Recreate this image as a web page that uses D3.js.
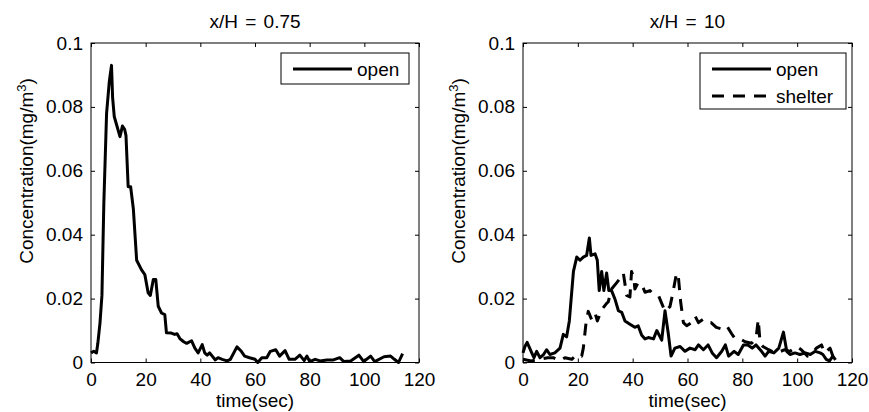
<!DOCTYPE html>
<html><head><meta charset="utf-8">
<script src="https://cdn.jsdelivr.net/npm/d3@7"></script>
<style>
body{margin:0;background:#fff;}
text{font-family:"Liberation Sans",Arial,sans-serif;fill:#000;}
</style></head>
<body><svg id="c" width="869" height="412"></svg>
<script>
const xTicks=[0,20,40,60,80,100,120];
const yTicks=[0,0.02,0.04,0.06,0.08,0.1];
const yTickLabels=["0","0.02","0.04","0.06","0.08","0.1"];
const titles=["x/H = 0.75","x/H = 10"];
const xLabel="time(sec)";
const seriesNames=["open","shelter"];

const nearOpenT=[0,1,2,2.5,3.3,4,4.7,5.7,6.7,7.5,7.9,8.5,10.6,11.5,12.3,12.8,13.6,14.5,15.5,16.7,18.5,19.7,20.9,21.7,22.8,23.7,24.6,25.8,27,27.6,29.4,30.6,31.5,32.5,33.9,35,36.8,38,39.2,40.7,41.6,42.5,43.4,45.5,46.5,48,49.8,51,53.4,55,56.2,58,60,61,62.5,64.3,65.6,67.6,69,71,72.5,74.6,76.4,78,79,80,82,83.8,86.3,88.7,91,92.5,95,98,99.8,102.3,103.8,107.2,109.6,111,112.5,114];
const nearOpenC=[0.003,0.0035,0.003,0.006,0.0125,0.021,0.05,0.078,0.088,0.093,0.083,0.077,0.0707,0.074,0.073,0.071,0.055,0.055,0.048,0.032,0.029,0.0275,0.0218,0.021,0.026,0.026,0.0176,0.0155,0.015,0.0093,0.0092,0.0088,0.009,0.0075,0.0065,0.006,0.0068,0.0045,0.003,0.0056,0.003,0.0023,0.003,0.0008,0.0015,0.001,0.0005,0.001,0.0049,0.0035,0.002,0.0015,0.001,0,0.0015,0.0015,0.0035,0.004,0.002,0.0037,0.001,0.001,0.0023,0.0006,0.002,0.0003,0.001,0.0005,0.0008,0.0008,0.0015,0.0003,0.0005,0.0023,0.0003,0.002,0.0003,0.0018,0.002,0.001,0,0.0028];

const farOpenT=[0,0.7,1.5,3.2,4,5,6.2,7.5,8.6,9.8,11.6,13.5,14.7,15.9,16.9,18.4,19.6,20.8,22,23.2,24.2,24.8,26.3,27.1,27.8,28.7,29.5,30.5,31.3,32.3,33.6,34.8,36,37.2,39,40.8,42,43.3,44.5,45.7,47.6,48.8,50.6,51.8,53,54,55.4,57.3,59.1,60.9,62.8,64,65.8,67.5,69,70.6,72.5,73.8,75,77,78.5,80.4,82,83.6,85,87,88.3,89.6,91.5,93.3,95,96.2,97.4,99.2,101,103,104.8,106.6,108.4,109.4,110.6,111.8,113,114];
const farOpenC=[0.003,0.005,0.0063,0.003,0.0015,0.0035,0.0015,0.0025,0.004,0.0025,0.003,0.0045,0.0088,0.008,0.013,0.0285,0.033,0.032,0.033,0.0335,0.039,0.0335,0.034,0.032,0.0225,0.0285,0.0225,0.028,0.0225,0.0225,0.0197,0.0162,0.0157,0.013,0.012,0.011,0.0115,0.0085,0.0074,0.0078,0.0074,0.01,0.007,0.0162,0.009,0.002,0.0045,0.005,0.0035,0.0045,0.004,0.0055,0.004,0.0055,0.003,0.0015,0.0035,0.0055,0.002,0.0035,0.0025,0.0055,0.0055,0.0045,0.0055,0.0035,0.002,0.0035,0.003,0.0045,0.0095,0.0035,0.0025,0.003,0.0025,0.003,0.0025,0.0035,0.003,0.0025,0.001,0.0005,0.002,0.0008];

const farShelterT=[0,3,6,9,11,13.5,15.3,17.8,19.6,21.4,22,23,23.8,25,26.3,27.1,28.7,30.5,31.1,32.3,34.2,36,36.6,37.8,39,39.6,40.5,40.8,42,43.3,44.5,46.3,47.6,49.4,50.6,51.8,53.6,54.6,56,56.6,57.5,58.5,59.7,61.5,62.8,64,65.7,67,68.6,70.5,72.5,74.3,76.1,77.3,79,81,83.4,85,85.8,86.5,87.5,89.6,92,94,95.5,97.4,99.8,101.5,103.8,105.5,107,108.9,110,112,113,114];
const farShelterC=[0.001,0.0005,0.001,0.0015,0.0015,0.0005,0.0015,0.001,0.0025,0.002,0.0045,0.0125,0.016,0.0135,0.0155,0.013,0.0165,0.0185,0.019,0.023,0.025,0.027,0.028,0.021,0.0205,0.0285,0.026,0.023,0.025,0.0245,0.022,0.0225,0.0215,0.021,0.0185,0.016,0.0175,0.0215,0.028,0.0275,0.019,0.0125,0.0115,0.0125,0.0145,0.0125,0.0135,0.0125,0.0125,0.011,0.0105,0.0115,0.009,0.0075,0.0075,0.0065,0.006,0.0075,0.0135,0.006,0.005,0.004,0.003,0.0035,0.004,0.0035,0.005,0.004,0.002,0.003,0.0045,0.0055,0.003,0.0045,0.002,0.0015];

const svg=d3.select("#c");
const FS=19;
const panels=[
 {left:91,right:419,title:titles[0],series:[{t:nearOpenT,c:nearOpenC,dash:null}],legend:{x:281,y:53,w:128,h:31}},
 {left:523,right:852,title:titles[1],series:[{t:farOpenT,c:farOpenC,dash:null},{t:farShelterT,c:farShelterC,dash:"12,9"}],legend:{x:700,y:53,w:146,h:56}}
];
const plotTop=43,plotBottom=362.5;

panels.forEach(p=>{
  const x=d3.scaleLinear().domain([0,120]).range([p.left,p.right]);
  const y=d3.scaleLinear().domain([0,0.1]).range([plotBottom,plotTop]);
  const g=svg.append("g");
  g.append("rect").attr("x",p.left).attr("y",plotTop).attr("width",p.right-p.left).attr("height",plotBottom-plotTop)
   .attr("fill","none").attr("stroke","#000").attr("stroke-width",1);
  const xb=g.append("g").attr("transform",`translate(0,${plotBottom})`).call(d3.axisBottom(x).tickValues(xTicks).tickSize(-4).tickPadding(10).tickFormat(d3.format("d")));
  const xt=g.append("g").attr("transform",`translate(0,${plotTop})`).call(d3.axisTop(x).tickValues(xTicks).tickSize(-4).tickFormat(""));
  const yl=g.append("g").attr("transform",`translate(${p.left},0)`).call(d3.axisLeft(y).tickValues(yTicks).tickSize(-4).tickPadding(8).tickFormat((d,i)=>yTickLabels[i]));
  const yr=g.append("g").attr("transform",`translate(${p.right},0)`).call(d3.axisRight(y).tickValues(yTicks).tickSize(-4).tickFormat(""));
  [xb,xt,yl,yr].forEach(a=>{a.select(".domain").remove();a.selectAll("line").attr("stroke","#000");a.selectAll("text").attr("font-size",FS).attr("font-family","Liberation Sans, Arial, sans-serif").attr("fill","#000");});
  g.append("text").attr("x",(p.left+p.right)/2).attr("y",28).attr("text-anchor","middle").attr("font-size",FS).attr("word-spacing",2).text(p.title);
  g.append("text").attr("x",(p.left+p.right)/2).attr("y",407).attr("text-anchor","middle").attr("font-size",FS).text(xLabel);
  const ylab=g.append("text").attr("transform",`translate(${p.left-58},171) rotate(-90)`).attr("text-anchor","middle").attr("font-size",FS);
  ylab.append("tspan").text("Concentration(mg/m");
  ylab.append("tspan").attr("dy",-7).attr("font-size",13).text("3");
  ylab.append("tspan").attr("dy",7).text(")");
  const line=d3.line().x(d=>x(d[0])).y(d=>y(d[1]));
  p.series.forEach(s=>{
    const pts=s.t.map((t,i)=>[t,s.c[i]]);
    g.append("path").datum(pts).attr("d",line).attr("fill","none").attr("stroke","#000").attr("stroke-width",3)
     .attr("stroke-linejoin","round").attr("stroke-dasharray",s.dash);
  });
  const L=p.legend;
  g.append("rect").attr("x",L.x).attr("y",L.y).attr("width",L.w).attr("height",L.h).attr("fill","#fff").attr("stroke","#000").attr("stroke-width",1);
  p.series.forEach((s,i)=>{
    const ly=L.y+16+i*27;
    g.append("line").attr("x1",L.x+12).attr("x2",L.x+71).attr("y1",ly).attr("y2",ly).attr("stroke","#000").attr("stroke-width",3).attr("stroke-dasharray",s.dash);
    g.append("text").attr("x",L.x+76).attr("y",ly).attr("dy","0.35em").attr("font-size",FS).text(seriesNames[i]);
  });
});
</script></body></html>
